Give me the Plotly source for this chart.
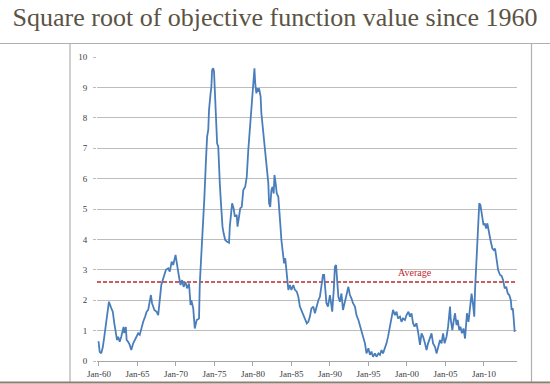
import plotly.graph_objects as go

title_text = "Square root of objective function value since 1960"
average_value = 2.6
average_label = "Average"

tick_years = [1960, 1965, 1970, 1975, 1980, 1985, 1990, 1995, 2000, 2005, 2010]
tick_labels = ["Jan-60", "Jan-65", "Jan-70", "Jan-75", "Jan-80", "Jan-85",
               "Jan-90", "Jan-95", "Jan-00", "Jan-05", "Jan-10"]
y_ticks = [0, 1, 2, 3, 4, 5, 6, 7, 8, 9, 10]

years = [
    1959.95, 1960.1, 1960.3, 1960.5, 1960.7, 1961.0, 1961.3, 1961.6, 1961.8, 1962.0,
    1962.2, 1962.35, 1962.5, 1962.7, 1962.9, 1963.2, 1963.3, 1963.5, 1963.6, 1963.8,
    1964.0, 1964.2, 1964.45, 1964.7, 1964.9, 1965.1, 1965.3, 1965.5, 1965.75, 1966.0,
    1966.2, 1966.4, 1966.6, 1966.75, 1966.9, 1967.2, 1967.5, 1967.7, 1968.1, 1968.35,
    1968.7, 1969.0, 1969.2, 1969.45, 1969.65, 1969.95, 1970.2, 1970.4, 1970.6, 1970.8,
    1971.0, 1971.25, 1971.45, 1971.7, 1971.9, 1972.0, 1972.25, 1972.45, 1972.7, 1972.9,
    1973.0, 1973.1, 1973.3, 1973.45, 1973.7, 1973.9, 1974.05, 1974.2, 1974.3, 1974.5,
    1974.6, 1974.7, 1974.85, 1974.95, 1975.05, 1975.2, 1975.35, 1975.5, 1975.6, 1975.7,
    1975.8, 1975.9, 1976.05, 1976.2, 1976.4, 1976.65, 1976.9, 1977.0, 1977.15, 1977.3,
    1977.5, 1977.65, 1977.9, 1978.0, 1978.2, 1978.35, 1978.55, 1978.75, 1979.0, 1979.2,
    1979.4, 1979.6, 1979.85, 1980.05, 1980.2, 1980.3, 1980.45, 1980.55, 1980.7, 1980.8,
    1981.0, 1981.1, 1981.35, 1981.55, 1981.75, 1982.0, 1982.1, 1982.25, 1982.4, 1982.55,
    1982.7, 1982.8, 1982.95, 1983.1, 1983.3, 1983.4, 1983.55, 1983.7, 1983.9, 1984.05,
    1984.2, 1984.4, 1984.6, 1984.8, 1985.0, 1985.25, 1985.45, 1985.7, 1985.9, 1986.1,
    1986.3, 1986.55, 1986.75, 1987.0, 1987.2, 1987.4, 1987.6, 1987.85, 1988.05, 1988.25,
    1988.5, 1988.7, 1988.9, 1989.1, 1989.25, 1989.4, 1989.55, 1989.75, 1990.0, 1990.1,
    1990.3, 1990.5, 1990.65, 1990.8, 1990.9, 1991.1, 1991.3, 1991.5, 1991.7, 1991.95,
    1992.2, 1992.4, 1992.6, 1992.8, 1993.0, 1993.25, 1993.45, 1993.7, 1993.9, 1994.1,
    1994.3, 1994.55, 1994.75, 1995.0, 1995.2, 1995.4, 1995.6, 1995.85, 1996.05, 1996.3,
    1996.5, 1996.7, 1996.9, 1997.15, 1997.35, 1997.55, 1997.8, 1998.0, 1998.2, 1998.45,
    1998.65, 1998.85, 1999.1, 1999.3, 1999.5, 1999.75, 1999.95, 2000.2, 2000.4, 2000.6,
    2000.8, 2001.0, 2001.25, 2001.45, 2001.7, 2001.9, 2002.1, 2002.35, 2002.55, 2002.75,
    2003.0, 2003.2, 2003.4, 2003.65, 2003.85, 2004.05, 2004.3, 2004.5, 2004.7, 2004.9,
    2005.15, 2005.35, 2005.6, 2005.7, 2005.9, 2006.1, 2006.25, 2006.45, 2006.6, 2006.8,
    2006.95, 2007.15, 2007.35, 2007.55, 2007.8, 2008.0, 2008.2, 2008.4, 2008.6, 2008.75,
    2008.85, 2009.05, 2009.3, 2009.4, 2009.55, 2009.75, 2009.95, 2010.1, 2010.3, 2010.45,
    2010.65, 2010.85, 2011.1, 2011.3, 2011.45, 2011.65, 2011.85, 2012.1, 2012.3, 2012.5,
    2012.7, 2012.9, 2013.1, 2013.3, 2013.5, 2013.6, 2013.75, 2013.85, 2014.0,
]

values = [
    0.65, 0.3, 0.25, 0.45, 0.8, 1.35, 1.95, 1.74, 1.62, 1.24,
    0.92, 0.69, 0.8, 0.63, 0.8, 1.12, 0.92, 1.12, 0.69, 0.63,
    0.53, 0.36, 0.58, 0.69, 0.8, 0.91, 0.86, 1.07, 1.29, 1.46,
    1.62, 1.68, 1.9, 2.17, 1.9, 1.68, 1.62, 1.51, 2.5, 2.72,
    3.0, 3.05, 2.94, 3.27, 3.16, 3.49, 3.16, 2.77, 2.5, 2.66,
    2.44, 2.6, 2.39, 2.55, 1.84, 2.0, 1.73, 1.07, 1.35, 1.4,
    1.4, 2.55, 3.43, 4.2, 5.4, 6.6, 7.38, 7.6, 8.26, 8.8,
    9.0, 9.57, 9.63, 9.52, 8.8, 8.15, 7.16, 7.05, 5.95, 5.85,
    5.4, 4.97, 4.42, 4.2, 3.98, 3.92, 3.89, 4.42, 4.97, 5.19,
    5.02, 4.75, 4.8, 4.42, 4.75, 5.02, 5.07, 5.62, 5.73, 6.06,
    6.94, 7.6, 8.48, 9.24, 9.63, 9.13, 8.8, 8.97, 8.86, 8.97,
    8.7, 8.15, 7.49, 6.94, 6.39, 5.85, 5.19, 5.07, 5.62, 5.73,
    5.51, 6.12, 5.85, 5.51, 5.4, 4.86, 4.53, 3.98, 3.54, 3.21,
    3.38, 2.8, 2.34, 2.5, 2.34, 2.5, 2.34, 2.28, 2.11, 1.79,
    1.68, 1.51, 1.40, 1.24, 1.29, 1.46, 1.73, 1.79, 1.57, 1.79,
    2.0, 2.11, 2.44, 2.83, 2.83, 2.44, 1.9, 1.79, 2.17, 2.0,
    1.62, 2.34, 3.1, 3.16, 2.77, 2.11, 1.95, 2.22, 1.68, 2.0,
    2.22, 2.44, 2.17, 2.06, 1.9, 1.79, 1.51, 1.35, 1.18, 0.96,
    0.8, 0.58, 0.25, 0.42, 0.2, 0.31, 0.14, 0.25, 0.14, 0.25,
    0.2, 0.36, 0.25, 0.42, 0.58, 0.8, 1.13, 1.5, 1.68, 1.51,
    1.62, 1.40, 1.46, 1.29, 1.40, 1.35, 1.51, 1.62, 1.46, 1.57,
    1.24, 1.13, 1.24, 0.96, 0.53, 0.91, 0.8, 0.58, 0.36, 0.58,
    0.74, 0.91, 0.58, 0.47, 0.25, 0.47, 0.69, 0.58, 0.91, 0.58,
    0.8, 1.13, 1.79, 1.35, 1.02, 1.35, 1.57, 1.18, 1.35, 1.02,
    1.13, 0.91, 1.07, 0.74, 1.57, 1.29, 1.84, 2.22, 1.84, 1.46,
    2.34, 3.43, 4.53, 5.19, 5.13, 4.75, 4.47, 4.53, 4.36, 4.53,
    4.2, 3.98, 3.70, 3.65, 3.70, 3.32, 2.99, 2.83, 2.80, 2.66,
    2.39, 2.44, 2.22, 2.17, 2.0, 1.68, 1.73, 1.46, 0.96,
]

x_range = [1959.75, 2014.3]

fig = go.Figure()

fig.add_trace(go.Scatter(
    x=x_range, y=[average_value, average_value], mode="lines",
    line=dict(color="#c0282d", width=1.5, dash="4px,2px"),
    hoverinfo="skip", showlegend=False,
))

fig.add_trace(go.Scatter(
    x=years, y=values, mode="lines",
    line=dict(color="#4a7ebb", width=1.8),
    showlegend=False,
))

fig.add_annotation(
    x=2001.0, y=average_value, yshift=9, text=average_label, showarrow=False,
    font=dict(family="Liberation Serif", size=10, color="#c0282d"),
)

# outer frame lines (paper coords relative to plot area)
L, R, T, B = 97, 517, 57, 361
W, H = R - L, B - T
def px(xp):
    return (xp - L) / W
def py(yp):
    return (B - yp) / H

frame = dict(color="#b0b0b0", width=1.2)
shapes = [
    dict(type="line", xref="paper", yref="paper", x0=px(0), x1=px(550), y0=py(43.5), y1=py(43.5), line=frame),
    dict(type="line", xref="paper", yref="paper", x0=px(70), x1=px(70), y0=py(43.5), y1=py(382.5), line=frame),
    dict(type="line", xref="paper", yref="paper", x0=px(531.5), x1=px(531.5), y0=py(43.5), y1=py(382.5), line=frame),
    dict(type="line", xref="paper", yref="paper", x0=px(0), x1=px(550), y0=py(382.5), y1=py(382.5),
         line=dict(color="#8a7f70", width=2)),
]

fig.update_layout(
    width=550, height=384,
    margin=dict(l=L, r=550 - R, t=T, b=384 - B, autoexpand=False),
    paper_bgcolor="white", plot_bgcolor="white",
    title=dict(text=title_text, x=275 / 550, xref="container", xanchor="center",
               y=1 - 17 / 384, yref="container", yanchor="middle", automargin=False,
               font=dict(family="Liberation Serif", size=26, color="#5b5344")),
    shapes=shapes,
    xaxis=dict(range=x_range, tickmode="array", tickvals=tick_years, ticktext=tick_labels,
               automargin=False,
               showgrid=False, zeroline=False, showline=True, linecolor="#a6a6a6", linewidth=1,
               ticks="outside", ticklen=4, tickcolor="#a6a6a6", ticklabelstandoff=0,
               tickfont=dict(family="Liberation Serif", size=9, color="#404040")),
    yaxis=dict(range=[0, 10], tickmode="array", tickvals=y_ticks, automargin=False,
               showgrid=True, gridcolor="#bdbdbd", gridwidth=1, zeroline=False,
               showline=False, ticks="outside", ticklen=3, tickcolor="#bdbdbd",
               ticklabelstandoff=4,
               tickfont=dict(family="Liberation Serif", size=9, color="#404040")),
)

fig.write_html("out.html", config={"displayModeBar": False},
               post_script="document.body.style.margin='0';")
